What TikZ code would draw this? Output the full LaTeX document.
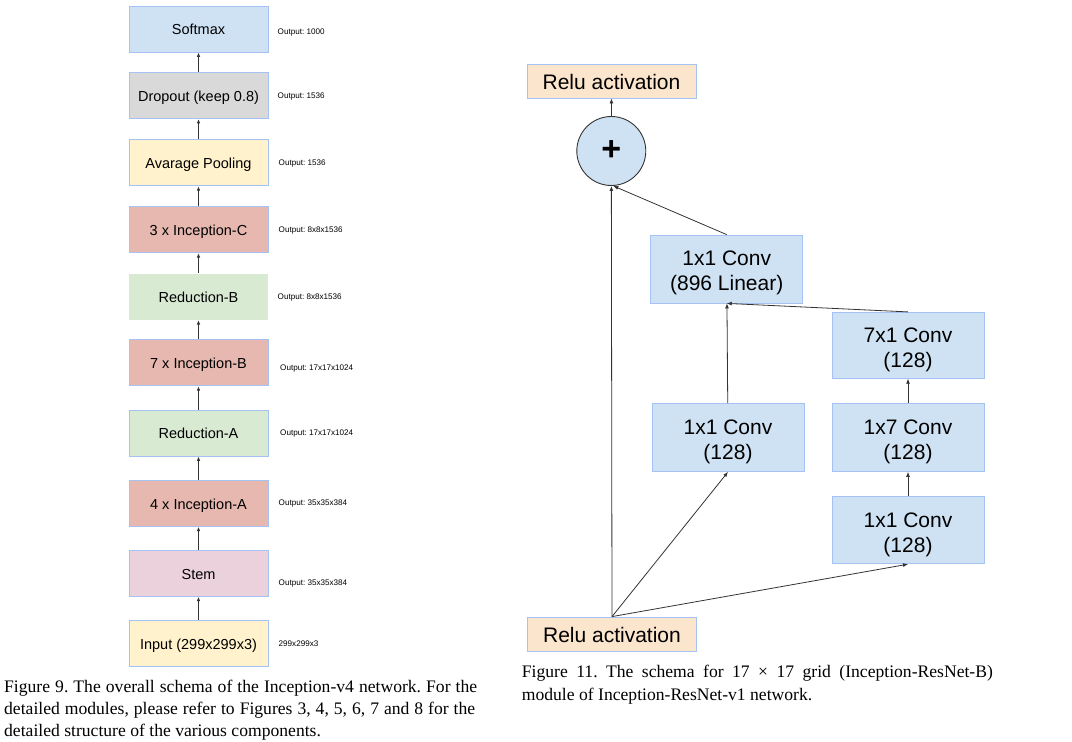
\documentclass[tikz,border=0pt]{standalone}
\usepackage{fontspec}
\setmainfont{Liberation Serif}
\newfontfamily\arialfont{Liberation Sans}
\usetikzlibrary{arrows.meta}
\frenchspacing

\definecolor{bluefill}{HTML}{CFE2F3}
\definecolor{grayfill}{HTML}{D9D9D9}
\definecolor{yellowfill}{HTML}{FFF2CC}
\definecolor{redfill}{HTML}{E6B8AF}
\definecolor{greenfill}{HTML}{D9EAD3}
\definecolor{pinkfill}{HTML}{EAD1DC}
\definecolor{orangefill}{HTML}{FCE5CD}
\definecolor{boxedge}{HTML}{A4C2F4}
\definecolor{wire}{HTML}{333333}

% strut that lowers the two-line labels inside the conv boxes
\newcommand{\convstrut}{\rule{0pt}{23pt}}

\begin{document}
\begin{tikzpicture}[x=1pt,y=-1pt,
  lbox/.style={draw=boxedge, line width=0.8pt, minimum width=139pt, minimum height=46pt,
    inner sep=0pt, text height=13pt, text depth=1.6pt,
    font=\arialfont\fontsize{14.5}{16}\selectfont},
  outlbl/.style={anchor=west, inner sep=0pt, font=\arialfont\fontsize{8.1}{9}\selectfont},
  rbox/.style={draw=boxedge, line width=0.8pt, fill=bluefill, minimum width=152pt,
    minimum height=68pt, inner sep=0pt, align=center,
    font=\arialfont\fontsize{21}{25}\selectfont},
  relubox/.style={draw=boxedge, line width=0.8pt, fill=orangefill, minimum width=169pt,
    minimum height=34pt, inner sep=0pt, text height=19pt, text depth=3pt,
    font=\arialfont\fontsize{21}{25}\selectfont},
  larrow/.style={draw=wire, line width=0.9pt, -{Latex[length=4.5pt,width=3.6pt]}},
  rarrow/.style={draw=wire, line width=0.8pt, -{Latex[length=5pt,width=4pt]}},
  capline/.style={anchor=base west, inner sep=0pt, font=\fontsize{17.6}{22}\selectfont}
]
\useasboundingbox (0,0) rectangle (1072,742);

% ---------- Inception-v4 overall schema ----------
\node[lbox, fill=bluefill]            (softmax) at (198.5,29)    {Softmax};
\node[lbox, fill=grayfill]            (dropout) at (198.5,95.5)  {Dropout (keep 0.8)};
\node[lbox, fill=yellowfill]          (avgpool) at (198.5,162.8) {Avarage Pooling};
\node[lbox, fill=redfill]             (incc)    at (198.5,229.7) {3 x Inception-C};
\node[lbox, fill=greenfill, draw=none](redb)    at (198.5,296.7) {Reduction-B};
\node[lbox, fill=redfill]             (incb)    at (198.5,362.8) {7 x Inception-B};
\node[lbox, fill=greenfill]           (reda)    at (198.5,433)   {Reduction-A};
\node[lbox, fill=redfill]             (inca)    at (198.5,503.3) {4 x Inception-A};
\node[lbox, fill=pinkfill]            (stem)    at (198.5,573.3) {Stem};
\node[lbox, fill=yellowfill]          (input)   at (198.5,643.3) {Input (299x299x3)};

\draw[larrow] (input)   -- (stem);
\draw[larrow] (stem)    -- (inca);
\draw[larrow] (inca)    -- (reda);
\draw[larrow] (reda)    -- (incb);
\draw[larrow] (incb)    -- (redb);
\draw[larrow] (redb)    -- (incc);
\draw[larrow] (incc)    -- (avgpool);
\draw[larrow] (avgpool) -- (dropout);
\draw[larrow] (dropout) -- (softmax);

\node[outlbl] (osoftmax) at (277.5,33)  {Output: 1000};
\node[outlbl] (odropout) at (277.5,97)  {Output: 1536};
\node[outlbl] (oavgpool) at (278.5,164) {Output: 1536};
\node[outlbl] (oincc)    at (278.5,231) {Output: 8x8x1536};
\node[outlbl] (oredb)    at (277.5,298) {Output: 8x8x1536};
\node[outlbl] (oincb)    at (280,369)   {Output: 17x17x1024};
\node[outlbl] (oreda)    at (280,434)   {Output: 17x17x1024};
\node[outlbl] (oinca)    at (278.5,504) {Output: 35x35x384};
\node[outlbl] (ostem)    at (278.5,584) {Output: 35x35x384};
\node[outlbl] (oinput)   at (278.5,644) {299x299x3};

% ---------- Inception-ResNet-B module ----------
\node[relubox] (relutop) at (611.5,81) {Relu activation};
\node[circle, draw=wire, line width=0.9pt, fill=bluefill, minimum size=69pt, inner sep=0pt,
      font=\arialfont\bfseries\fontsize{34}{34}\selectfont] (plus) at (611.3,151) {+};
\node[rbox] (c896) at (726.7,269)   {\convstrut 1x1 Conv\\(896 Linear)};
\node[rbox, minimum height=66pt] (c71) at (908,345.3) {\convstrut 7x1 Conv\\(128)};
\node[rbox] (c11a) at (728,437.5)   {\convstrut 1x1 Conv\\(128)};
\node[rbox] (c17)  at (908,437.5)   {\convstrut 1x7 Conv\\(128)};
\node[rbox, minimum height=67pt] (c11b) at (908,530.3) {\convstrut 1x1 Conv\\(128)};
\node[relubox] (relubot) at (612,634) {Relu activation};

\draw[rarrow] (plus) -- (relutop);
\draw[rarrow] (relubot.north) -- (plus);
\draw[rarrow] (relubot.north) -- (c11a.south);
\draw[rarrow] (relubot.north) -- (c11b.south);
\draw[rarrow] (c11b) -- (c17);
\draw[rarrow] (c17) -- (c71);
\draw[rarrow] (c11a) -- (c896);
\draw[rarrow] (c71.north) -- (c896.south);
\draw[rarrow] (c896.north) -- ([xshift=2pt]plus.south);

% ---------- Captions ----------
\node[capline] (cap9a) at (4,692)
  {\makebox[473pt][s]{Figure 9. The overall schema of the Inception-v4 network. For the}};
\node[capline] (cap9b) at (4,714)
  {\makebox[471pt][s]{detailed modules, please refer to Figures 3, 4, 5, 6, 7 and 8 for the}};
\node[capline] (cap9c) at (4,736)
  {detailed structure of the various components.};
\node[capline] (cap11a) at (521.7,677)
  {\makebox[471pt][s]{Figure 11. The schema for 17 × 17 grid (Inception-ResNet-B)}};
\node[capline] (cap11b) at (521.7,700)
  {module of Inception-ResNet-v1 network.};
\end{tikzpicture}
\end{document}
